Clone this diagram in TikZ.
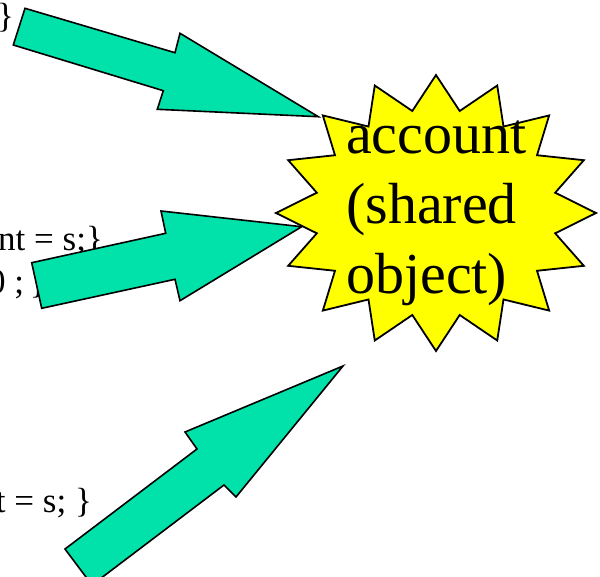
\documentclass[tikz,border=0pt]{standalone}
\usepackage{fontspec}
\setmainfont{Liberation Serif}
\definecolor{arrowfill}{RGB}{0,226,170}
\definecolor{burstfill}{RGB}{255,255,0}
\begin{document}
\begin{tikzpicture}[x=1pt,y=-1pt,
  blockarrow/.style={fill=arrowfill,draw=black,line width=1.6pt,line join=miter},
  burstshape/.style={fill=burstfill,draw=black,line width=1.8pt,line join=miter},
  codetext/.style={font=\fontsize{35}{42}\selectfont,inner sep=0pt,text=black},
  bursttext/.style={font=\fontsize{58}{70}\selectfont,inner sep=0pt,text=black,anchor=base west}]
\useasboundingbox (0,0) rectangle (600,576);
\clip (0,0) rectangle (600,576);
% code fragments
\node[codetext,anchor=base east] (c1) at (14,27) {\}};
\node[codetext,anchor=base east] (c2) at (103,250) {nt = s;\}};
\node[codetext,anchor=base west] (c3) at (-12,293) {0 ;\,\}};
\node[codetext,anchor=base east] (c4) at (92,512) {t = s; \}};
\node[codetext,anchor=base east] (c5) at (2,557) {\}};
% burst
\coordinate (bc) at (436,213);
\draw[burstshape] (436,75)
  \foreach \i [evaluate=\i as \rx using {mod(\i,2)==1 ? 121.5 : 160},
               evaluate=\i as \ry using {mod(\i,2)==1 ? 104 : 138}] in {1,...,31}
  { -- ({436+\rx*sin(\i*11.25)},{213-\ry*cos(\i*11.25)}) } -- cycle;
\node[bursttext] (t1) at (346,153) {account};
\node[bursttext] (t2) at (346,223.5) {(shared};
\node[bursttext] (t3) at (346,293.5) {object)};
% arrows
\draw[blockarrow] (25,8.3) -- (175,52.7) -- (180,33.3) -- (318.3,116.7)
  -- (157.3,109.3) -- (163.3,90.7) -- (13.3,45) -- cycle;
\draw[blockarrow] (31.7,262.7) -- (165.7,233.3) -- (161,211) -- (301.7,226.7)
  -- (180,300.7) -- (175,279.3) -- (41.7,308.3) -- cycle;
\draw[blockarrow] (65,549) -- (197,449) -- (185,432) -- (343,366)
  -- (236,497) -- (224,485) -- (92,585) -- cycle;
\end{tikzpicture}
\end{document}
